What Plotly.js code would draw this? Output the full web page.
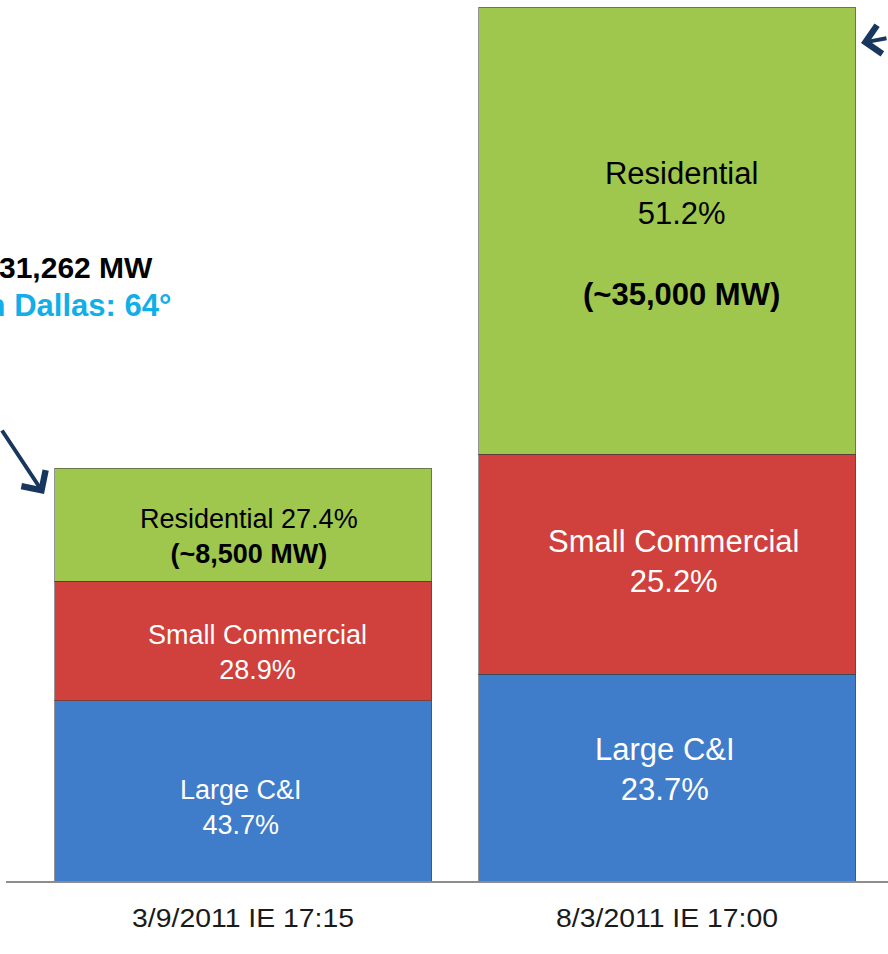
<!DOCTYPE html>
<html>
<head>
<meta charset="utf-8">
<script src="https://cdn.plot.ly/plotly-3.0.1.min.js"></script>
<style>
  html, body { margin: 0; padding: 0; background: #ffffff; }
  #chart { width: 888px; height: 954px; }
</style>
</head>
<body>
<div id="chart"></div>
<script>
// ---- data ----
const categories = ['3/9/2011 IE 17:15', '8/3/2011 IE 17:00'];
const totalsMW = [31262, 66100];
const largeCIPct = [43.7, 23.7];
const smallCommPct = [28.9, 25.2];
const residentialPct = [27.4, 51.2];
const residentialMWText = ['(~8,500 MW)', '(~35,000 MW)'];
const peakText = '31,262 MW';
const tempText = 'in Dallas: 64°';

// ---- derived segment sizes (MW) ----
const toMW = (pcts) => pcts.map((p, i) => p / 100 * totalsMW[i]);
const largeCI = toMW(largeCIPct);
const smallComm = toMW(smallCommPct);
const residential = toMW(residentialPct);
const stackTop = categories.map((c, i) => largeCI[i] + smallComm[i] + residential[i]);
const yMax = Math.max(...stackTop);

const FONT = '"Liberation Sans", Arial, sans-serif';
const idx = [0, 1];

function barTrace(name, vals, color) {
  return {
    type: 'bar', name: name, x: idx, y: vals,
    marker: { color: color, line: { color: 'rgba(60,60,60,0.55)', width: 1 } },
    hoverinfo: 'skip'
  };
}

const traces = [
  barTrace('Large C&I', largeCI, '#3f7cca'),
  barTrace('Small Commercial', smallComm, '#d0403d'),
  barTrace('Residential', residential, '#9fc74d')
];

// segment label annotations (placed at segment mid-points)
const segLabels = [];
const labelStyle = [
  // [segment index, cat index, text, font size, color, xshift, yshift]
  [0, 0, 'Large C&I<br>' + largeCIPct[0].toFixed(1) + '%', 27, '#ffffff', -2, -17],
  [1, 0, 'Small Commercial<br>' + smallCommPct[0].toFixed(1) + '%', 27, '#ffffff', 14, -12],
  [2, 0, 'Residential ' + residentialPct[0].toFixed(1) + '%<br><b>' + residentialMWText[0] + '</b>', 27, '#000000', 6, -12],
  [0, 1, 'Large C&I<br>' + largeCIPct[1].toFixed(1) + '%', 31, '#ffffff', -2, 8],
  [1, 1, 'Small Commercial<br>' + smallCommPct[1].toFixed(1) + '%', 31, '#ffffff', 6, 3],
  [2, 1, 'Residential<br>' + residentialPct[1].toFixed(1) + '%<br> <br><b>' + residentialMWText[1] + '</b>', 31, '#000000', 14, -3]
];
const segs = [largeCI, smallComm, residential];
labelStyle.forEach(([s, i, text, size, color, xs, ys]) => {
  let base = 0;
  for (let k = 0; k < s; k++) base += segs[k][i];
  segLabels.push({
    x: i, y: base + segs[s][i] / 2, xref: 'x', yref: 'y',
    text: text, showarrow: false, xshift: xs, yshift: ys,
    font: { family: FONT, size: size, color: color }, align: 'center'
  });
});

const otherAnn = [
  { xref: 'paper', yref: 'paper', x: 0.1689, y: 0.7025, xanchor: 'right', yanchor: 'middle',
    text: '<b>' + peakText + '</b>', showarrow: false,
    font: { family: FONT, size: 30, color: '#000000' } },
  { xref: 'paper', yref: 'paper', x: 0.1893, y: 0.658, xanchor: 'right', yanchor: 'middle',
    text: '<b>' + tempText + '</b>', showarrow: false,
    font: { family: FONT, size: 31, color: '#12aee8' } },
  // arrows
  { xref: 'paper', yref: 'paper', x: 0.0431, y: 0.4428, text: '', showarrow: true,
    ax: -43, ay: -65, arrowhead: 4, arrowsize: 1.4, arrowwidth: 4, arrowcolor: '#17375e', standoff: 0 },
  { xref: 'paper', yref: 'paper', x: 0.9694, y: 0.9588, text: '', showarrow: true,
    ax: 27, ay: -5, arrowhead: 4, arrowsize: 1.4, arrowwidth: 4, arrowcolor: '#17375e', standoff: 0 }
];

const layout = {
  width: 888, height: 954,
  margin: { l: 6, r: 0, t: 7, b: 73 },
  paper_bgcolor: '#ffffff', plot_bgcolor: '#ffffff',
  barmode: 'stack', bargap: 0.111,
  showlegend: false, hovermode: false,
  xaxis: {
    type: 'linear', range: [-0.559, 1.521],
    tickmode: 'array', tickvals: idx, ticktext: categories,
    showline: true, linecolor: '#8c8c8c', linewidth: 2,
    ticks: '', showgrid: false, zeroline: false,
    tickfont: { family: FONT, size: 26, color: '#1a1a1a' },
    ticklabelstandoff: 13
  },
  yaxis: { range: [0, yMax], visible: false, showgrid: false, zeroline: false },
  annotations: segLabels.concat(otherAnn)
};

Plotly.newPlot('chart', traces, layout, { displayModeBar: false, staticPlot: true }).then(function (gd) {
  // Calibri-like tick labels: fit the glyphs to the reference label width
  gd.querySelectorAll('.xtick text').forEach(function (t) {
    t.setAttribute('textLength', '222');
    t.setAttribute('lengthAdjust', 'spacingAndGlyphs');
  });
});
</script>
</body>
</html>
